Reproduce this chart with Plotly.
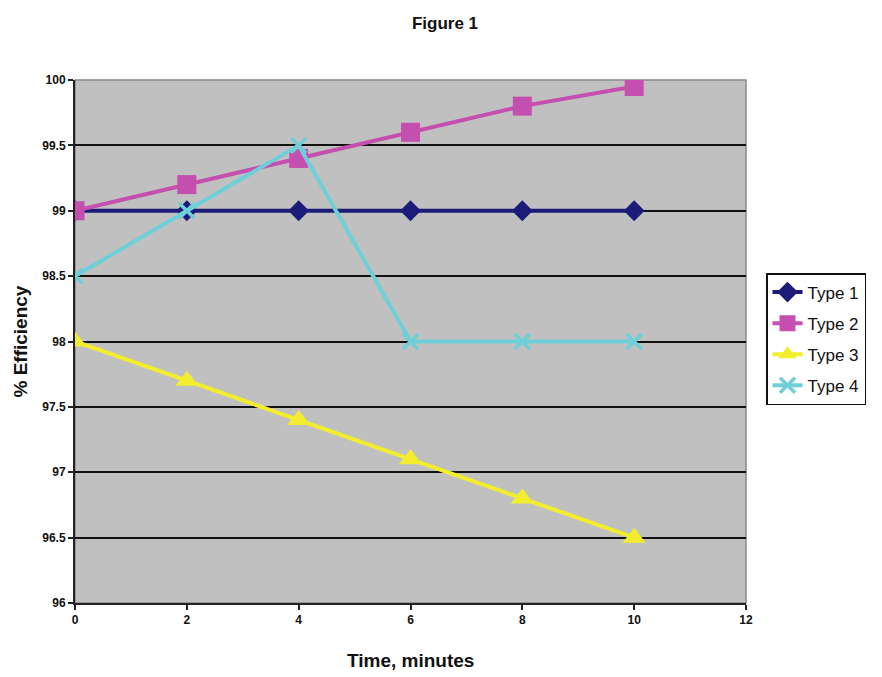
import plotly.graph_objects as go

time_min = [0, 2, 4, 6, 8, 10]
type1 = [99.0, 99.0, 99.0, 99.0, 99.0, 99.0]
type2 = [99.0, 99.2, 99.4, 99.6, 99.8, 99.95]
type3 = [98.0, 97.7, 97.4, 97.1, 96.8, 96.5]
type4 = [98.5, 99.0, 99.5, 98.0, 98.0, 98.0]
y_ticks = [96, 96.5, 97, 97.5, 98, 98.5, 99, 99.5, 100]
x_ticks = [0, 2, 4, 6, 8, 10, 12]

FONT = "Liberation Sans Narrow, Arial Narrow, Liberation Sans, Arial, sans-serif"

series = [
    ("Type 1", type1, "#1c1c78", "diamond", 16),
    ("Type 2", type2, "#c54fae", "square", 19),
    ("Type 3", type3, "#f2ee2e", "triangle-up", 20),
    ("Type 4", type4, "#6fcfd8", "x-thin", 15),
]

fig = go.Figure()
for name, ys, col, sym, sz in series:
    fig.add_trace(go.Scatter(
        x=time_min, y=ys, name=name, legendgroup=name, mode="lines+markers",
        line=dict(color=col, width=4),
        marker=dict(symbol=sym, size=sz, color=col,
                    line=dict(color=col, width=3.5 if sym == "x-thin" else 0)),
    ))

W, H = 874, 669
fig.update_layout(
    width=W, height=H,
    paper_bgcolor="white", plot_bgcolor="#c0c0c0",
    margin=dict(l=67, r=136, t=72, b=74, autoexpand=False),
    title=dict(text="<b>Figure 1</b>", x=0.5, xanchor="center", y=0.978, yanchor="middle",
               font=dict(family=FONT, size=17, color="#111")),
    font=dict(family=FONT, color="#111"),
    legend=dict(xref="container", yref="container", x=(766 - 8) / W, y=1 - (273 - 8) / H,
                xanchor="left", yanchor="top",
                bordercolor="#111", borderwidth=1.5, bgcolor="white",
                font=dict(family=FONT, size=17, color="#111"),
                traceorder="grouped", tracegroupgap=6, itemwidth=30),
    showlegend=True,
)
fig.update_xaxes(
    range=[0, 12], tickvals=x_ticks, ticktext=[f"<b>{v}</b>" for v in x_ticks],
    ticks="outside", ticklen=5, tickcolor="#222", tickwidth=1.5,
    showline=True, linecolor="#222", linewidth=2, showgrid=False, zeroline=False,
    tickfont=dict(family=FONT, size=12, color="#111"),
)
fig.update_yaxes(
    range=[96, 100], tickvals=y_ticks, ticktext=[f"<b>{v:g}</b>" for v in y_ticks],
    ticks="outside", ticklen=5, tickcolor="#222", tickwidth=1.5,
    showline=True, linecolor="#222", linewidth=2,
    showgrid=True, gridcolor="#111", gridwidth=1.5, zeroline=False,
    tickfont=dict(family=FONT, size=12, color="#111"),
)
fig.add_annotation(text="<b>Time, minutes</b>", xref="paper", yref="paper", x=0.5, y=-(660 - 603) / (H - 72 - 74),
                   yanchor="middle", showarrow=False, font=dict(family=FONT, size=19, color="#111"))
fig.add_annotation(text="<b>% Efficiency</b>", xref="paper", yref="paper", x=-(75 - 20) / (W - 67 - 136), y=0.5,
                   xanchor="center", yanchor="middle", textangle=-90, showarrow=False,
                   font=dict(family=FONT, size=19, color="#111"))
fig.add_shape(type="rect", xref="paper", yref="paper", x0=0, y0=0, x1=1, y1=1,
              line=dict(color="#888", width=1.5), layer="below")

fig.write_html("out.html")
